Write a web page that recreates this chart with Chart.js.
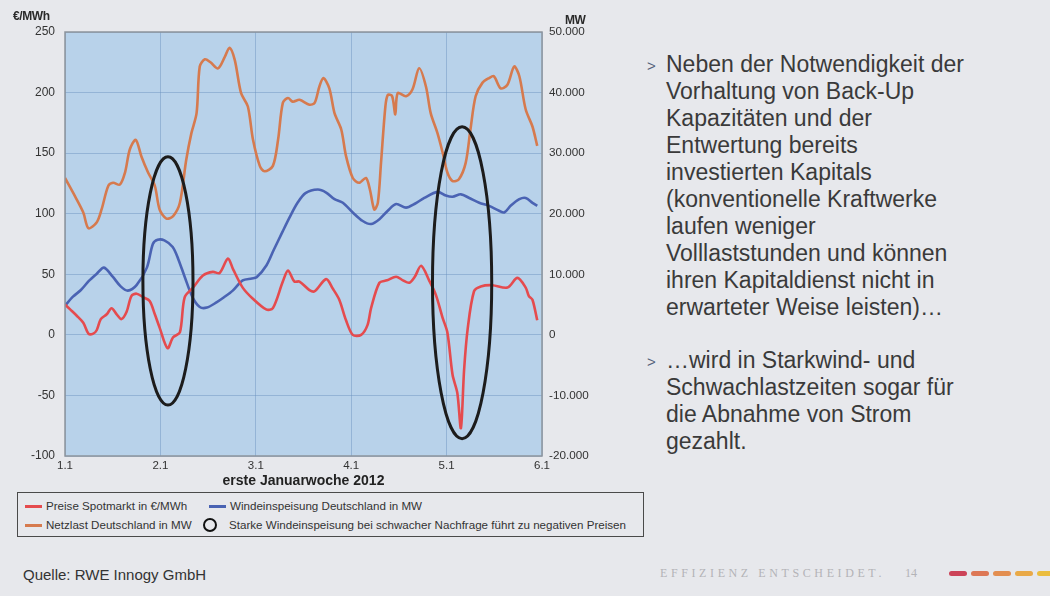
<!DOCTYPE html>
<html>
<head>
<meta charset="utf-8">
<script src="https://cdn.jsdelivr.net/npm/chart.js@4.4.1/dist/chart.umd.min.js"></script>
<style>
  html, body { margin: 0; padding: 0; }
  body {
    width: 1050px; height: 596px; position: relative; overflow: hidden;
    background: #e7e8ec; font-family: Arial, "Liberation Sans", sans-serif; color: #333;
  }
  #wrap { position: absolute; left: 0; top: 0; width: 640px; height: 490px; }
  .unit { position: absolute; font-size: 12px; font-weight: bold; color: #2a2a2a; letter-spacing: -0.4px; }
  #legend {
    position: absolute; left: 17px; top: 492px; width: 625px; height: 43px;
    border: 1.5px solid #4a4a4a; font-size: 11.6px; color: #333;
  }
  .item { position: absolute; white-space: nowrap; line-height: 14px; }
  .seg { position: absolute; left: -21px; top: 6px; width: 17px; height: 3px; }
  .ring { position: absolute; left: -26px; top: 0px; width: 10px; height: 10px; border: 2.5px solid #111; border-radius: 50%; }
  #quelle { position: absolute; left: 23px; top: 566px; font-size: 15px; color: #333; }
  .para { position: absolute; left: 666px; font-size: 23px; line-height: 27px; color: #3a3a3a; white-space: nowrap; }
  .bul { position: absolute; left: -19px; top: 0; font-size: 15px; color: #55627a; }
  .foot {
    position: absolute; top: 566px; font-family: "Liberation Serif", "DejaVu Serif", serif;
    font-size: 12px; color: #b3b3b7; white-space: nowrap;
  }
  #dashes { position: absolute; left: 949px; top: 571px; white-space: nowrap; font-size: 0; }
  #dashes i { display: inline-block; width: 18px; height: 5px; border-radius: 2.5px; margin-right: 4px; }
</style>
</head>
<body>
<div id="wrap"><canvas id="chart" width="640" height="490"></canvas></div>
<div class="unit" style="left:13px; top:9px;">€/MWh</div>
<div class="unit" style="left:565px; top:13px;">MW</div>

<div id="legend">
  <div class="item" style="left:28px; top:6px;"><span class="seg" style="background:#e54b4e"></span>Preise Spotmarkt in €/MWh</div>
  <div class="item" style="left:212px; top:6px;"><span class="seg" style="background:#4a63b3"></span>Windeinspeisung Deutschland in MW</div>
  <div class="item" style="left:28px; top:25px;"><span class="seg" style="background:#d67a4e"></span>Netzlast Deutschland in MW</div>
  <div class="item" style="left:211px; top:25px;"><span class="ring"></span>Starke Windeinspeisung bei schwacher Nachfrage führt zu negativen Preisen</div>
</div>

<div id="quelle">Quelle: RWE Innogy GmbH</div>

<div class="para" style="top:51px;"><span class="bul" style="top:1px;">&gt;</span>Neben der Notwendigkeit der<br>Vorhaltung von Back-Up<br>Kapazitäten und der<br>Entwertung bereits<br>investierten Kapitals<br>(konventionelle Kraftwerke<br>laufen weniger<br>Volllaststunden und können<br>ihren Kapitaldienst nicht in<br>erwarteter Weise leisten)…</div>
<div class="para" style="top:347px;"><span class="bul" style="top:1px;">&gt;</span>…wird in Starkwind- und<br>Schwachlastzeiten sogar für<br>die Abnahme von Strom<br>gezahlt.</div>

<div class="foot" style="right:165px; letter-spacing:3.6px;">EFFIZIENZ ENTSCHEIDET.</div>
<div class="foot" style="left:905px;">14</div>
<div id="dashes"><i style="background:#cc4358"></i><i style="background:#dd7755"></i><i style="background:#e38e50"></i><i style="background:#e9a947"></i><i style="background:#ebbd3f"></i></div>

<script>
// Achsenbeschriftung: Tage der ersten Januarwoche 2012 (x in Stunden ab 1.1.)
const dayLabels = ['1.1', '2.1', '3.1', '4.1', '5.1', '6.1'];

// Preise Spotmarkt in €/MWh (linke Achse)
const priceHours = [0, 1.3, 2.9, 4.6, 5.9, 7.1, 8, 9, 10.5, 11.7, 13, 14.2, 15.5, 16.7, 18, 19.7, 21.3, 22.6, 23.8, 25.8,
  27.2, 28.9, 30.1, 32.2, 34.7, 37.2, 38.9, 41, 42.3, 44.7, 47.2, 50.6, 52.3, 54.8, 56.1, 57.7, 59, 61.5, 62.8, 65.7,
  67.4, 69, 70.7, 72.4, 74.5, 76.1, 77, 79.1, 81, 83.3, 85, 86.6, 88, 89.6, 91.6, 93.3, 95, 96.2, 97.5, 98.7,
  99.6, 100.4, 101.3, 102.9, 104.6, 107.5, 111.3, 113.8, 115.9, 116.7, 117.6, 118.8];
const priceValues = [25, 21, 16, 10, 1, 1, 4, 13, 17, 22, 17, 13, 19, 32, 34, 31, 28, 17, 6, -11,
  -2, 2, 31, 39, 49, 52, 51, 63, 54, 39, 30, 21, 22, 44, 53, 44, 44, 37, 36, 46,
  38, 29, 12, 0, 0, 8, 22, 43, 45, 48, 45, 43, 48, 57, 45, 33, 14, 2, -33, -48,
  -77, -29, 5, 36, 40, 41, 39, 47, 39, 32, 29, 12];

// Netzlast Deutschland in MW (rechte Achse)
const loadHours = [0, 2.5, 4.6, 5.9, 8, 9.2, 10.9, 12.1, 13.8, 15.1, 16.3, 17.8, 19.2, 20.9, 22.6, 23.8, 25.5, 27.2,
  28.9, 30.5, 31.8, 33.1, 33.9, 35.2, 36.6, 38.5, 40.2, 41.4, 42.7, 44.3, 46, 47.3, 49, 50.2, 52.3, 53.6, 54.8,
  56.1, 57.3, 59, 61.5, 62.8, 64, 65, 66.5, 67.8, 69.5, 70.7, 72.4, 74, 75.7, 76.7, 77.8, 78.7, 79.5, 80.6, 81.2,
  82.3, 83.1, 83.7, 85.8, 87.4, 89.1, 90.8, 92, 93.7, 95, 96.2, 97.5, 99.1, 100.8, 102, 103.3, 105, 106.7, 107.9,
  109.6, 111.3, 113, 114.3, 115.9, 117.6, 118.8];
const loadValues = [25900, 22900, 20200, 17600, 18600, 20700, 24600, 25100, 24800, 26800, 30600, 32200, 29500, 26800,
  24600, 20700, 19200, 19600, 21800, 28900, 33300, 36600, 44300, 45500, 45000, 44000, 45900, 47400, 45400, 39900,
  37700, 32200, 27900, 27000, 27900, 32200, 38300, 39100, 38500, 38800, 38000, 38300, 41000, 42400, 40700, 36600,
  33900, 29500, 25900, 25100, 25900, 24000, 20700, 21800, 28400, 37700, 39600, 39400, 36400, 39900, 39400, 40500,
  44000, 41000, 36600, 33300, 30100, 26800, 25400, 25700, 28400, 33900, 39400, 41600, 42400, 42700, 40700, 41300,
  44300, 42700, 37200, 34400, 31200];

// Windeinspeisung Deutschland in MW (rechte Achse)
const windHours = [0, 2, 4, 6, 8, 9.8, 12, 14, 15.8, 18, 20.6, 22.1, 23.3, 25, 27.1, 28.5, 30.1, 32.1, 33.9, 35.7,
  38.2, 40, 42.2, 44.7, 47, 48.2, 50.7, 52.5, 54.7, 56.5, 58.5, 60.5, 63.6, 65.7, 67.8, 69.9, 72.4, 74.9, 77, 79.1,
  81.2, 83.3, 85.8, 87.9, 90.4, 93.7, 95.8, 97.5, 99.6, 101.7, 104.2, 106.7, 109.2, 110.5, 112.1, 114.3, 115.9, 117.6, 118.8];
const windValues = [4800, 6300, 7400, 8900, 10100, 11100, 9600, 8000, 7300, 8200, 11100, 15000, 15700, 15600, 14500,
  12500, 9600, 6200, 4600, 4500, 5400, 6200, 7300, 9000, 9300, 9500, 11500, 14000, 17000, 19400, 21800, 23400, 24000,
  23500, 22400, 21800, 20200, 18800, 18300, 19100, 20500, 21600, 21000, 21600, 22600, 23600, 23000, 22800, 23200,
  22600, 21800, 21300, 20500, 20200, 21300, 22400, 22600, 21800, 21300];

// Markierungen (Ellipsen) in Datenkoordinaten: Mitte Stunde / €-Wert, halbe Breite in h, halbe Höhe in €
const ovalHours = [25.9, 99.9];
const ovalMid = [44.5, 43];
const ovalHalfSpan = [6.3, 7.45];
const ovalHalfRange = [102.5, 128.7];

const toPoints = (hs, vs) => hs.map((h, i) => ({ x: h, y: vs[i] }));

const fmtMW = v => (v < 0 ? '-' : '') + String(Math.abs(v)).replace(/\B(?=(\d{3})+(?!\d))/g, '.');

const plotBg = {
  id: 'plotBg',
  beforeDraw(chart) {
    const { ctx, chartArea: a } = chart;
    ctx.save();
    ctx.fillStyle = '#b8d2ea';
    ctx.fillRect(a.left, a.top, a.right - a.left, a.bottom - a.top);
    ctx.restore();
  },
  afterDraw(chart) {
    const { ctx, chartArea: a } = chart;
    ctx.save();
    ctx.strokeStyle = '#8d949c';
    ctx.lineWidth = 1.5;
    ctx.strokeRect(a.left, a.top, a.right - a.left, a.bottom - a.top);
    ctx.restore();
  }
};

const ovals = {
  id: 'ovals',
  afterDatasetsDraw(chart) {
    const { ctx } = chart;
    const x = chart.scales.x, y = chart.scales.y;
    ctx.save();
    ctx.lineWidth = 3;
    ctx.strokeStyle = '#1c1c1c';
    ovalHours.forEach((h, i) => {
      const cx = x.getPixelForValue(h);
      const cy = y.getPixelForValue(ovalMid[i]);
      const rx = Math.abs(x.getPixelForValue(h + ovalHalfSpan[i]) - cx);
      const ry = Math.abs(y.getPixelForValue(ovalMid[i] + ovalHalfRange[i]) - cy);
      ctx.beginPath();
      ctx.ellipse(cx, cy, rx, ry, 0, 0, Math.PI * 2);
      ctx.stroke();
    });
    ctx.restore();
  }
};

const gridColor = 'rgba(105,145,190,0.45)';
const fam = 'Arial, "Liberation Sans", sans-serif';

new Chart(document.getElementById('chart'), {
  type: 'line',
  data: {
    datasets: [
      { label: 'Preise Spotmarkt in €/MWh', data: toPoints(priceHours, priceValues), yAxisID: 'y',
        borderColor: '#e54b4e', borderWidth: 2.6, pointRadius: 0, tension: 0.3 },
      { label: 'Windeinspeisung Deutschland in MW', data: toPoints(windHours, windValues), yAxisID: 'y1',
        borderColor: '#4a63b3', borderWidth: 2.6, pointRadius: 0, tension: 0.3 },
      { label: 'Netzlast Deutschland in MW', data: toPoints(loadHours, loadValues), yAxisID: 'y1',
        borderColor: '#d67a4e', borderWidth: 2.6, pointRadius: 0, tension: 0.3 }
    ]
  },
  options: {
    responsive: false,
    animation: false,
    layout: { padding: { top: 32, left: 0, right: 0, bottom: 0 } },
    plugins: { legend: { display: false }, tooltip: { enabled: false } },
    scales: {
      x: {
        type: 'linear', min: 0, max: 120,
        ticks: { stepSize: 24, autoSkip: false, maxRotation: 0, padding: 3, color: '#333', font: { family: fam, size: 11.5 },
                 callback: v => dayLabels[Math.round(v / 24)] },
        grid: { color: gridColor, drawTicks: false },
        border: { display: false },
        title: { display: true, text: 'erste Januarwoche 2012', color: '#222',
                 font: { family: fam, size: 14, weight: 'bold' }, padding: { top: 0, bottom: 0 } },
        afterFit(s) { s.height = 34; }
      },
      y: {
        position: 'left', min: -100, max: 250,
        ticks: { stepSize: 50, padding: 10, color: '#333', font: { family: fam, size: 12 } },
        grid: { color: gridColor, drawTicks: false },
        border: { display: false },
        afterFit(s) { s.width = 65; }
      },
      y1: {
        position: 'right', min: -20000, max: 50000,
        ticks: { stepSize: 10000, padding: 7, color: '#333', font: { family: fam, size: 11.7 }, callback: v => fmtMW(v) },
        grid: { display: false, drawTicks: false },
        border: { display: false },
        afterFit(s) { s.width = 98; }
      }
    }
  },
  plugins: [plotBg, ovals]
});
</script>
</body>
</html>
